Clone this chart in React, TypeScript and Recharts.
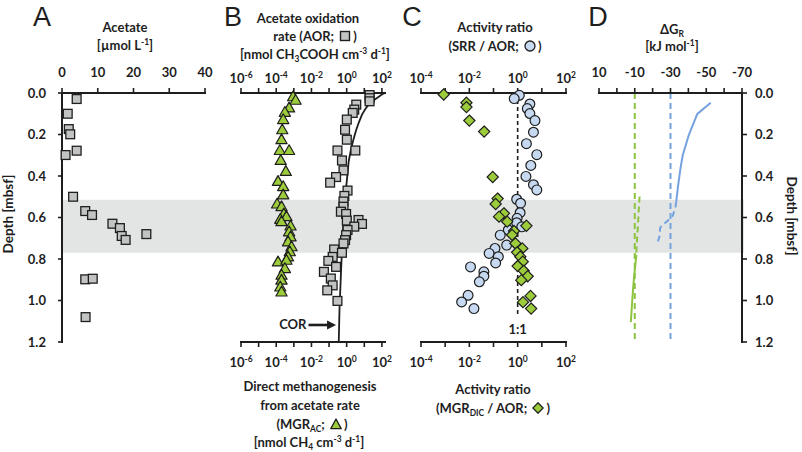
import React from "react";
import {
  ScatterChart,
  Scatter,
  XAxis,
  YAxis,
  ReferenceArea,
  ReferenceLine,
  ReferenceDot,
} from "recharts";

// ---------------- data ----------------
const depthTicks = [0, 0.2, 0.4, 0.6, 0.8, 1.0, 1.2];
const shadedZone = [0.515, 0.77];

// Panel A: acetate concentration
const acetateConc = [4.1, 1.6, 1.9, 2.3, 4.1, 1.0, 3.1, 6.5, 8.4, 14.1, 16.2, 16.7, 17.8, 23.6, 6.5, 8.6, 6.6];
const acetateDepth = [0.029, 0.1, 0.174, 0.199, 0.278, 0.299, 0.5, 0.569, 0.588, 0.63, 0.651, 0.689, 0.708, 0.68, 0.898, 0.895, 1.08];
const acetateTicks = [0, 10, 20, 30, 40];

// Panel B: acetate oxidation rate (squares)
const aorRate = [20, 20, 20, 3.5, 2.7, 2.2, 1.02, 0.81, 1.02, 0.3, 3.1, 0.54, 0.66, 0.25, 0.115, 1.12, 0.74, 0.66, 0.66, 0.47, 0.93, 1.02, 4.7, 7.4, 2.7, 1.12, 0.93, 0.81, 0.66, 0.195, 0.54, 0.16, 0.091, 0.25, 0.051, 0.126, 0.16, 0.079, 0.3];
const aorDepth = [0.01, 0.025, 0.04, 0.056, 0.08, 0.096, 0.128, 0.177, 0.225, 0.277, 0.277, 0.325, 0.373, 0.405, 0.432, 0.47, 0.496, 0.523, 0.548, 0.572, 0.583, 0.615, 0.612, 0.631, 0.644, 0.66, 0.685, 0.709, 0.725, 0.754, 0.77, 0.79, 0.809, 0.838, 0.862, 0.894, 0.927, 0.951, 1.002];

// Panel B: direct methanogenesis from acetate rate (triangles)
const mgrAcRate = [9.1e-4, 1.26e-3, 5.4e-4, 3.1e-4, 2.5e-4, 2.2e-4, 2.0e-4, 1.6e-4, 5.4e-4, 1.8e-4, 3.5e-4, 1.26e-4, 2.5e-4, 2.5e-4, 1.12e-4, 2.0e-4, 2.7e-4, 1.7e-4, 3.8e-4, 2.0e-4, 6.5e-4, 5.4e-4, 6.5e-4, 4.7e-4, 7.4e-4, 5.9e-4, 4.7e-4, 1.26e-4, 3.8e-4, 3.1e-4, 2.0e-4, 2.0e-4, 1.7e-4, 2.0e-4];
const mgrAcDepth = [0.018, 0.035, 0.072, 0.093, 0.128, 0.177, 0.225, 0.277, 0.277, 0.325, 0.378, 0.426, 0.451, 0.491, 0.535, 0.548, 0.583, 0.609, 0.596, 0.62, 0.641, 0.669, 0.693, 0.717, 0.741, 0.765, 0.79, 0.814, 0.806, 0.846, 0.878, 0.902, 0.935, 0.959];

// Panel B: COR curve
const corRate = [148, 120, 60, 22, 12, 7.4, 5, 3.5, 2.4, 1.74, 1.3, 1.12, 0.95, 0.81, 0.6, 0.49, 0.39, 0.355];
const corDepth = [0, 0.003, 0.02, 0.047, 0.075, 0.104, 0.14, 0.177, 0.225, 0.273, 0.33, 0.386, 0.45, 0.515, 0.676, 0.838, 1.047, 1.2];
const corArrowFrom = 6.8e-3;
const corArrowShaftEnd = 0.15;
const corArrowTo = 0.25;
const corLabelAt = 5.2e-3;
const corArrowDepth = 1.118;

const logTicksB = [1e-6, 1e-5, 1e-4, 1e-3, 1e-2, 1e-1, 1, 10, 100];
const logDomainB = [1e-6, 150];

// Panel C: SRR/AOR (circles)
const srrRatio = [1.17, 0.72, 3.2, 2.5, 3.2, 5.2, 4.5, 2.3, 6.2, 3.5, 2.2, 4.5, 6.2, 0.91, 1.32, 1.26, 0.95, 0.91, 1.48, 0.41, 0.19, 0.35, 0.115, 0.066, 0.158, 0.123, 0.0112, 0.04, 0.04, 0.026, 0.0089, 0.0048, 0.0155];
const srrDepth = [0.011, 0.027, 0.053, 0.075, 0.099, 0.133, 0.189, 0.244, 0.297, 0.349, 0.402, 0.442, 0.467, 0.512, 0.531, 0.577, 0.604, 0.625, 0.645, 0.66, 0.685, 0.733, 0.749, 0.773, 0.789, 0.819, 0.838, 0.862, 0.883, 0.91, 0.975, 1.007, 1.039];

// Panel C: MGR_DIC/AOR (diamonds)
const mgrDicRatio = [8.7e-4, 7.6e-3, 7.6e-3, 1.0e-2, 0.041, 0.093, 0.148, 0.123, 0.27, 0.17, 0.37, 2.3, 0.71, 0.59, 0.81, 1.55, 0.95, 1.29, 1.62, 1.0, 1.78, 2.6, 1.41, 3.4, 1.66, 3.6];
const mgrDicDepth = [0.007, 0.047, 0.068, 0.133, 0.186, 0.405, 0.509, 0.535, 0.58, 0.596, 0.62, 0.64, 0.665, 0.684, 0.725, 0.749, 0.768, 0.789, 0.813, 0.834, 0.857, 0.883, 0.902, 0.978, 1.008, 1.039];

const logTicksC = [1e-4, 1e-3, 1e-2, 1e-1, 1, 10, 100];
const logDomainC = [1e-4, 100];
const oneToOneEnd = 1.07;
const oneToOneLabelDepth = 1.142;

// Panel D: Gibbs energies
const dgBlueSolid = [-52.5, -45.0, -40.3, -36.9, -35.6, -34.3, -33.2];
const dgBlueSolidDepth = [0.047, 0.101, 0.201, 0.298, 0.362, 0.443, 0.523];
const dgBlueDashed = [-33.2, -32.8, -31.3, -28.3, -24.9, -24.2, -23.8, -22.3];
const dgBlueDashedDepth = [0.523, 0.548, 0.591, 0.617, 0.64, 0.652, 0.693, 0.73];
const dgGreenDashed = [-12.7, -12.2, -11.8, -11.2, -10.7];
const dgGreenDashedDepth = [0.499, 0.57, 0.636, 0.72, 0.797];
const dgGreenSolid = [-10.9, -9.8, -9.2, -8.6, -7.8];
const dgGreenSolidDepth = [0.78, 0.87, 0.93, 1.0, 1.104];
const dgThresholdGreen = -10;
const dgThresholdBlue = -30;
const dgTicks = [10, 0, -10, -20, -30, -40, -50, -60, -70];
const dgLabelled = [10, -10, -30, -50, -70];

// ---------------- style ----------------
const FONT = "Lato, 'Open Sans', 'DejaVu Sans', sans-serif";
const INK = "#1e1e1e";
const GREEN = "#9ccb3b";
const BLUE_FILL = "#c6d9f1";
const GRAY_FILL = "#c2c4c4";
const LINE_BLUE = "#74a2df";
const LINE_GREEN = "#8cc43f";
const BAND = "#e3e5e5";

const TXT = { fontFamily: FONT, fontWeight: 700, fontSize: 13, fill: INK } as const;
const AX = { stroke: INK, strokeWidth: 2, strokeLinecap: "square" } as any;
const TL = { stroke: INK, strokeWidth: 1.6 } as any;

const zip = (xs: number[], ys: number[]) => xs.map((x, i) => ({ x, y: ys[i] }));

// ---------------- marks ----------------
const SquareMark = (p: any) => (
  <rect x={p.cx - 4.4} y={p.cy - 4.4} width={8.8} height={8.8} fill={GRAY_FILL} stroke={INK} strokeWidth={1.3} />
);
const TriMark = (p: any) => (
  <polygon
    points={`${p.cx},${p.cy - 5.8} ${p.cx + 5.6},${p.cy + 4} ${p.cx - 5.6},${p.cy + 4}`}
    fill={GREEN}
    stroke={INK}
    strokeWidth={1.2}
    strokeLinejoin="round"
  />
);
const DiamondMark = (p: any) => (
  <polygon
    points={`${p.cx},${p.cy - 5.6} ${p.cx + 5.6},${p.cy} ${p.cx},${p.cy + 5.6} ${p.cx - 5.6},${p.cy}`}
    fill={GREEN}
    stroke={INK}
    strokeWidth={1.2}
  />
);
const CircleMark = (p: any) => (
  <circle cx={p.cx} cy={p.cy} r={4.9} fill={BLUE_FILL} stroke={INK} strokeWidth={1.2} />
);
const NoMark = () => <g />;

// ---------------- ticks ----------------
const powTick = (bottom: boolean) => (p: any) => {
  const e = Math.round(Math.log10(p.payload.value));
  if (e % 2 !== 0) return <g />;
  return (
    <text x={p.x} y={bottom ? p.y + 9 : p.y} textAnchor="middle" {...TXT}>
      10
      <tspan fontSize={8.5} dy={-5.5}>
        {e}
      </tspan>
    </text>
  );
};
const numTopTick = (labelled?: number[]) => (p: any) => {
  const v = p.payload.value;
  if (labelled && !labelled.includes(v)) return <g />;
  return (
    <text x={p.x} y={p.y} textAnchor="middle" {...TXT}>
      {v}
    </text>
  );
};
const depthTick = (anchor: "start" | "end") => (p: any) => (
  <text x={p.x} y={p.y + 4.5} textAnchor={anchor} {...TXT}>
    {Number(p.payload.value).toFixed(1)}
  </text>
);

// ---------------- html text helpers ----------------
const Title = ({ cx, cy, children, size = 13 }: any) => (
  <div
    style={{
      position: "absolute",
      left: cx - 130,
      width: 260,
      top: cy - 9,
      height: 18,
      lineHeight: "18px",
      textAlign: "center",
      fontFamily: FONT,
      fontWeight: 700,
      fontSize: size,
      color: INK,
      whiteSpace: "nowrap",
    }}
  >
    {children}
  </div>
);
const Sup = ({ children }: any) => (
  <span style={{ fontSize: "0.65em", position: "relative", top: -5 }}>{children}</span>
);
const Sub = ({ children }: any) => (
  <span style={{ fontSize: "0.65em", position: "relative", top: 3 }}>{children}</span>
);
const Letter = ({ x, children }: any) => (
  <div
    style={{
      position: "absolute",
      left: x - 20,
      width: 40,
      top: 4,
      textAlign: "center",
      fontFamily: "'Liberation Sans', Arial, sans-serif",
      fontSize: 27,
      lineHeight: "27px",
      color: INK,
    }}
  >
    {children}
  </div>
);
const Icon = ({ kind }: any) => (
  <svg width={12} height={12} viewBox="0 0 12 12" style={{ verticalAlign: "-1px", margin: "0 2px" }}>
    {kind === "square" && <rect x={1.5} y={1.5} width={9} height={9} fill={GRAY_FILL} stroke={INK} strokeWidth={1.4} />}
    {kind === "tri" && <polygon points="6,1 11.2,10.6 0.8,10.6" fill={GREEN} stroke={INK} strokeWidth={1.3} strokeLinejoin="round" />}
    {kind === "circle" && <circle cx={6} cy={6} r={5} fill={BLUE_FILL} stroke={INK} strokeWidth={1.3} />}
    {kind === "diamond" && <polygon points="6,0.8 11.2,6 6,11.2 0.8,6" fill={GREEN} stroke={INK} strokeWidth={1.3} />}
  </svg>
);
const Rotated = ({ cx, cy, deg, children }: any) => (
  <div
    style={{
      position: "absolute",
      left: cx - 70,
      top: cy - 9,
      width: 140,
      height: 18,
      lineHeight: "18px",
      textAlign: "center",
      transform: `rotate(${deg}deg)`,
      fontFamily: FONT,
      fontWeight: 700,
      fontSize: 13.5,
      color: INK,
      whiteSpace: "nowrap",
    }}
  >
    {children}
  </div>
);

const abs = (left: number): React.CSSProperties => ({ position: "absolute", left, top: 0 });

export default function App() {
  const acetateData = zip(acetateConc, acetateDepth);
  const aorData = zip(aorRate, aorDepth);
  const mgrAcData = zip(mgrAcRate, mgrAcDepth);
  const corData = zip(corRate, corDepth);
  const srrData = zip(srrRatio, srrDepth);
  const mgrDicData = zip(mgrDicRatio, mgrDicDepth);
  const zoneEdges = zip([0, 1], shadedZone);

  return (
    <div style={{ position: "absolute", left: 0, top: 0, width: 802, height: 452, background: "#fff", overflow: "hidden" }}>
      {/* shaded zone across all panels */}
      <div style={abs(0)}>
        <ScatterChart width={802} height={452} margin={{ top: 93, right: 58, bottom: 110, left: 62 }}>
          <XAxis xAxisId="bx" orientation="bottom" type="number" dataKey="x" domain={[0, 1]} height={0} tick={false} tickLine={false} axisLine={false} />
          <YAxis yAxisId="by" orientation="left" type="number" dataKey="y" domain={[0, 1.2]} reversed width={0} tick={false} tickLine={false} axisLine={false} />
          <ReferenceArea xAxisId="bx" yAxisId="by" x1={0} x2={1} y1={shadedZone[0]} y2={shadedZone[1]} fill={BAND} fillOpacity={1} stroke="none" />
          <Scatter xAxisId="bx" yAxisId="by" data={zoneEdges} shape={NoMark} isAnimationActive={false} />
        </ScatterChart>
      </div>

      {/* Panel A */}
      <div style={abs(0)}>
        <ScatterChart width={215} height={452} margin={{ top: 60, right: 10, bottom: 110, left: 0 }}>
          <XAxis xAxisId="t" orientation="top" type="number" dataKey="x" domain={[0, 40]} ticks={acetateTicks} interval={0} height={33} axisLine={AX} tickLine={TL} tickSize={5} tickMargin={11} tick={numTopTick()} />
          <XAxis xAxisId="b" orientation="bottom" type="number" dataKey="x" domain={[0, 40]} height={0} axisLine={AX} tick={false} tickLine={false} />
          <YAxis yAxisId="l" orientation="left" type="number" dataKey="y" domain={[0, 1.2]} reversed ticks={depthTicks} interval={0} width={62} axisLine={AX} tickLine={TL} tickSize={4} tickMargin={12} tick={depthTick("end")} />
          <YAxis yAxisId="r" orientation="right" type="number" dataKey="y" domain={[0, 1.2]} reversed width={0} axisLine={AX} tick={false} tickLine={false} />
          <Scatter xAxisId="t" yAxisId="l" data={acetateData} shape={SquareMark} isAnimationActive={false} />
        </ScatterChart>
      </div>

      {/* Panel B */}
      <div style={abs(215)}>
        <ScatterChart width={185} height={452} margin={{ top: 60, right: 15, bottom: 77, left: 26 }}>
          <XAxis xAxisId="t" orientation="top" type="number" scale="log" dataKey="x" domain={logDomainB} allowDataOverflow ticks={logTicksB} interval={0} height={33} axisLine={AX} tickLine={TL} tickSize={5} tickMargin={5} tick={powTick(false)} />
          <XAxis xAxisId="b" orientation="bottom" type="number" scale="log" dataKey="x" domain={logDomainB} allowDataOverflow ticks={logTicksB} interval={0} height={33} axisLine={AX} tickLine={TL} tickSize={5} tickMargin={11} tick={powTick(true)} />
          <YAxis yAxisId="l" orientation="left" type="number" dataKey="y" domain={[0, 1.2]} reversed width={0} axisLine={AX} tick={false} tickLine={false} />
          <YAxis yAxisId="r" orientation="right" type="number" dataKey="y" domain={[0, 1.2]} reversed width={0} axisLine={AX} tick={false} tickLine={false} />
          <Scatter xAxisId="t" yAxisId="l" data={corData} shape={NoMark} line={{ stroke: INK, strokeWidth: 1.8 }} lineType="joint" isAnimationActive={false} />
          <Scatter xAxisId="b" yAxisId="l" data={mgrAcData} shape={TriMark} isAnimationActive={false} />
          <Scatter xAxisId="t" yAxisId="l" data={aorData} shape={SquareMark} isAnimationActive={false} />
          <ReferenceLine xAxisId="t" yAxisId="l" segment={[{ x: corArrowFrom, y: corArrowDepth }, { x: corArrowShaftEnd, y: corArrowDepth }]} stroke={INK} strokeWidth={2.6} ifOverflow="visible" />
          <ReferenceDot
            xAxisId="t"
            yAxisId="l"
            x={corArrowTo}
            y={corArrowDepth}
            ifOverflow="visible"
            shape={(p: any) => (
              <polygon points={`${p.cx},${p.cy} ${p.cx - 9},${p.cy - 4.5} ${p.cx - 9},${p.cy + 4.5}`} fill={INK} />
            )}
          />
          <ReferenceDot
            xAxisId="t"
            yAxisId="l"
            x={corLabelAt}
            y={corArrowDepth}
            ifOverflow="visible"
            shape={(p: any) => (
              <text x={p.cx} y={p.cy + 4.5} textAnchor="end" {...TXT}>
                COR
              </text>
            )}
          />
        </ScatterChart>
      </div>

      {/* Panel C */}
      <div style={abs(400)}>
        <ScatterChart width={185} height={452} margin={{ top: 60, right: 19, bottom: 77, left: 21 }}>
          <XAxis xAxisId="t" orientation="top" type="number" scale="log" dataKey="x" domain={logDomainC} allowDataOverflow ticks={logTicksC} interval={0} height={33} axisLine={AX} tickLine={TL} tickSize={5} tickMargin={5} tick={powTick(false)} />
          <XAxis xAxisId="b" orientation="bottom" type="number" scale="log" dataKey="x" domain={logDomainC} allowDataOverflow ticks={logTicksC} interval={0} height={33} axisLine={AX} tickLine={TL} tickSize={5} tickMargin={11} tick={powTick(true)} />
          <YAxis yAxisId="l" orientation="left" type="number" dataKey="y" domain={[0, 1.2]} reversed width={0} axisLine={AX} tick={false} tickLine={false} />
          <YAxis yAxisId="r" orientation="right" type="number" dataKey="y" domain={[0, 1.2]} reversed width={0} axisLine={AX} tick={false} tickLine={false} />
          <ReferenceLine xAxisId="t" yAxisId="l" segment={[{ x: 1, y: 0 }, { x: 1, y: oneToOneEnd }]} stroke={INK} strokeWidth={1.6} strokeDasharray="4 3" />
          <ReferenceDot
            xAxisId="t"
            yAxisId="l"
            x={1}
            y={oneToOneLabelDepth}
            ifOverflow="visible"
            shape={(p: any) => (
              <text x={p.cx} y={p.cy + 4.5} textAnchor="middle" {...TXT}>
                1:1
              </text>
            )}
          />
          <Scatter xAxisId="t" yAxisId="l" data={srrData} shape={CircleMark} isAnimationActive={false} />
          <Scatter xAxisId="b" yAxisId="l" data={mgrDicData} shape={DiamondMark} isAnimationActive={false} />
        </ScatterChart>
      </div>

      {/* Panel D */}
      <div style={abs(585)}>
        <ScatterChart width={217} height={452} margin={{ top: 60, right: 0, bottom: 110, left: 14 }}>
          <XAxis xAxisId="t" orientation="top" type="number" dataKey="x" domain={[-70, 10]} reversed ticks={dgTicks} interval={0} height={33} axisLine={AX} tickLine={TL} tickSize={5} tickMargin={11} tick={numTopTick(dgLabelled)} />
          <XAxis xAxisId="b" orientation="bottom" type="number" dataKey="x" domain={[-70, 10]} reversed height={0} axisLine={AX} tick={false} tickLine={false} />
          <YAxis yAxisId="l" orientation="left" type="number" dataKey="y" domain={[0, 1.2]} reversed width={0} axisLine={AX} tick={false} tickLine={false} />
          <YAxis yAxisId="r" orientation="right" type="number" dataKey="y" domain={[0, 1.2]} reversed ticks={depthTicks} interval={0} width={60} axisLine={AX} tickLine={TL} tickSize={5} tickMargin={8} tick={depthTick("start")} />
          <ReferenceLine xAxisId="t" yAxisId="r" x={dgThresholdGreen} stroke={LINE_GREEN} strokeWidth={2} strokeDasharray="6 4" />
          <ReferenceLine xAxisId="t" yAxisId="r" x={dgThresholdBlue} stroke={LINE_BLUE} strokeWidth={2} strokeDasharray="6 4" />
          <Scatter xAxisId="t" yAxisId="r" data={zip(dgBlueSolid, dgBlueSolidDepth)} shape={NoMark} line={{ stroke: LINE_BLUE, strokeWidth: 2 }} lineType="joint" isAnimationActive={false} />
          <Scatter xAxisId="t" yAxisId="r" data={zip(dgBlueDashed, dgBlueDashedDepth)} shape={NoMark} line={{ stroke: LINE_BLUE, strokeWidth: 2, strokeDasharray: "6 4" }} lineType="joint" isAnimationActive={false} />
          <Scatter xAxisId="t" yAxisId="r" data={zip(dgGreenDashed, dgGreenDashedDepth)} shape={NoMark} line={{ stroke: LINE_GREEN, strokeWidth: 2, strokeDasharray: "6 4" }} lineType="joint" isAnimationActive={false} />
          <Scatter xAxisId="t" yAxisId="r" data={zip(dgGreenSolid, dgGreenSolidDepth)} shape={NoMark} line={{ stroke: LINE_GREEN, strokeWidth: 2 }} lineType="joint" isAnimationActive={false} />
        </ScatterChart>
      </div>

      {/* Letters */}
      <Letter x={42}>A</Letter>
      <Letter x={233}>B</Letter>
      <Letter x={412}>C</Letter>
      <Letter x={598}>D</Letter>

      {/* Panel titles */}
      <Title cx={125} cy={27}>Acetate</Title>
      <Title cx={125} cy={45}>
        [µmol L<Sup>-1</Sup>]
      </Title>

      <Title cx={308} cy={18}>Acetate oxidation</Title>
      <Title cx={315} cy={36}>
        rate (AOR; <Icon kind="square" />)
      </Title>
      <Title cx={315} cy={54}>
        [nmol CH<Sub>3</Sub>COOH cm<Sup>-3</Sup> d<Sup>-1</Sup>]
      </Title>

      <Title cx={310} cy={386}>Direct methanogenesis</Title>
      <Title cx={310} cy={405}>from acetate rate</Title>
      <Title cx={312} cy={424}>
        (MGR<Sub>AC</Sub>; <Icon kind="tri" />)
      </Title>
      <Title cx={309} cy={442}>
        [nmol CH<Sub>4</Sub> cm<Sup>-3</Sup> d<Sup>-1</Sup>]
      </Title>

      <Title cx={495} cy={27}>Activity ratio</Title>
      <Title cx={495} cy={46}>
        (SRR / AOR; <Icon kind="circle" />)
      </Title>
      <Title cx={493} cy={389}>Activity ratio</Title>
      <Title cx={493} cy={408}>
        (MGR<Sub>DIC</Sub> / AOR; <Icon kind="diamond" />)
      </Title>

      <Title cx={672} cy={29}>
        ΔG<Sub>R</Sub>
      </Title>
      <Title cx={672} cy={46}>
        [kJ mol<Sup>-1</Sup>]
      </Title>

      {/* Depth labels */}
      <Rotated cx={8} cy={214} deg={-90}>
        Depth [mbsf]
      </Rotated>
      <Rotated cx={792} cy={216} deg={90}>
        Depth [mbsf]
      </Rotated>
    </div>
  );
}
